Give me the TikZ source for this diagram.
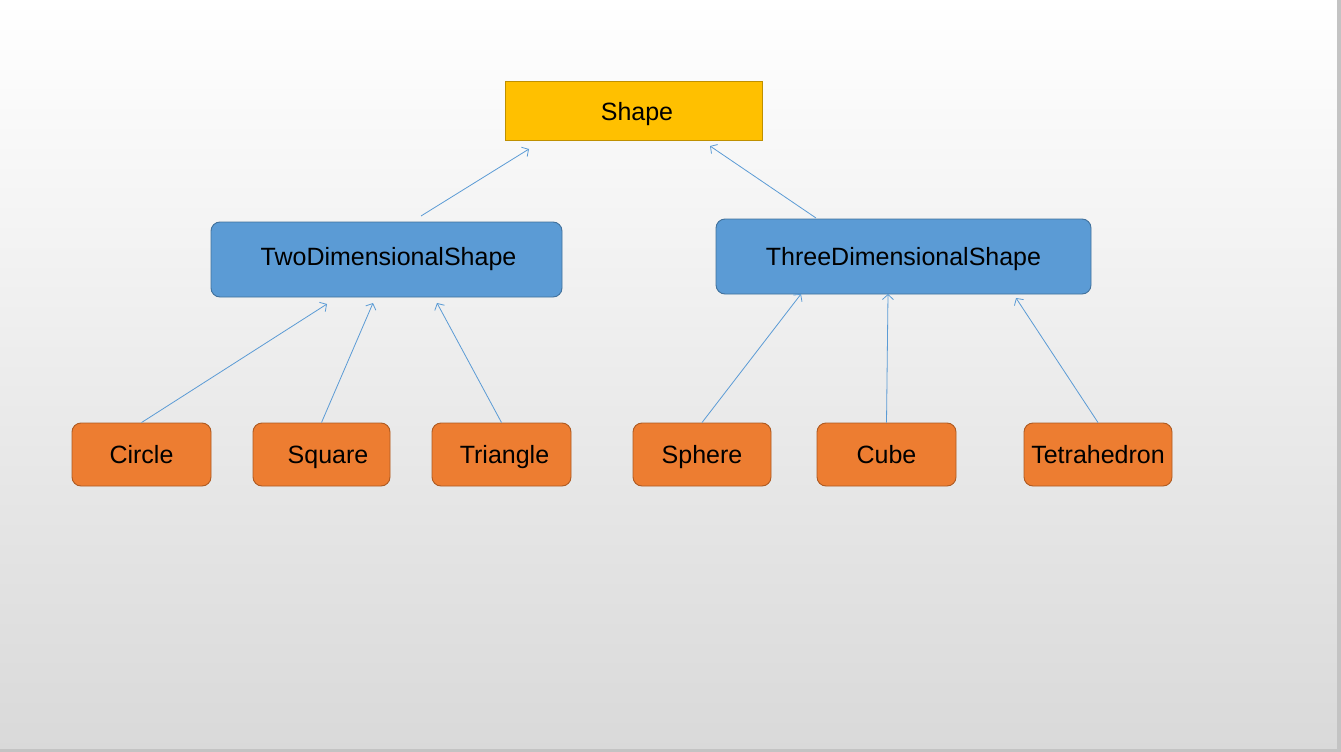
\documentclass[tikz,border=0pt]{standalone}
\usepackage{fontspec}
\setmainfont{Liberation Sans}
\usetikzlibrary{arrows.meta}
\definecolor{shapefill}{HTML}{FFC000}
\definecolor{shapedraw}{HTML}{BF9000}
\definecolor{bluefill}{HTML}{5B9BD5}
\definecolor{bluedraw}{HTML}{41719C}
\definecolor{orfill}{HTML}{ED7D31}
\definecolor{ordraw}{HTML}{AE5A21}
\definecolor{arrowc}{HTML}{5B9BD5}
\definecolor{bgbot}{HTML}{D9D9D9}
\definecolor{bgmid}{HTML}{F3F3F3}
\definecolor{edgec}{HTML}{C3C3C3}
\begin{document}
\begin{tikzpicture}[x=1pt,y=-1pt,
  box/.style={draw, line width=0.9pt, inner sep=0pt, text height=18pt, text depth=0pt, font=\fontsize{25}{29}\selectfont},
  topbox/.style={box, fill=shapefill, draw=shapedraw},
  midbox/.style={box, fill=bluefill, draw=bluedraw, rounded corners=9pt},
  leafbox/.style={box, fill=orfill, draw=ordraw, rounded corners=9pt},
  conn/.style={draw=arrowc, line width=0.8pt, -{Straight Barb[length=5pt,width=11pt]}}]
\shade[top color=white, middle color=bgmid, bottom color=bgbot] (0,0) rectangle (1341,752);
\useasboundingbox (0,0) rectangle (1341,752);
\fill[edgec] (1337,0) rectangle (1341,752);
\fill[edgec] (0,749) rectangle (1341,752);
% nodes
\node[topbox, minimum width=257pt, minimum height=59pt] (shape) at (633.5,110.5) {\hspace*{7pt}\raisebox{-1pt}{Shape}};
\node[midbox, minimum width=351pt, minimum height=75pt] (two) at (386.5,259.5) {\hspace*{4pt}\raisebox{3pt}{TwoDimensionalShape}};
\node[midbox, minimum width=375pt, minimum height=75pt] (three) at (903.5,256.5) {ThreeDimensionalShape};
\node[leafbox, minimum width=139pt, minimum height=63pt] (circle) at (141.5,454.5) {Circle};
\node[leafbox, minimum width=137pt, minimum height=63pt] (square) at (321.5,454.5) {\hspace*{13pt}Square};
\node[leafbox, minimum width=139pt, minimum height=63pt] (triangle) at (501.5,454.5) {\hspace*{6pt}Triangle};
\node[leafbox, minimum width=138pt, minimum height=63pt] (sphere) at (702,454.5) {Sphere};
\node[leafbox, minimum width=139pt, minimum height=63pt] (cube) at (886.5,454.5) {Cube};
\node[leafbox, minimum width=148pt, minimum height=63pt] (tetra) at (1098,454.5) {Tetrahedron};
% connector end points
\coordinate (twoS) at (421,216);
\coordinate (shapeL) at (529,149);
\coordinate (threeS) at (816,218);
\coordinate (shapeR) at (710,146);
\coordinate (twoA) at (327,304);
\coordinate (twoB) at (373,303);
\coordinate (twoC) at (437,303);
\coordinate (threeA) at (801,294);
\coordinate (threeB) at (888,294);
\coordinate (threeC) at (1016,298);
\draw[conn] (twoS) -- (shapeL);
\draw[conn] (threeS) -- (shapeR);
\draw[conn] (circle.north) -- (twoA);
\draw[conn] (square.north) -- (twoB);
\draw[conn] (triangle.north) -- (twoC);
\draw[conn] (sphere.north) -- (threeA);
\draw[conn] (cube.north) -- (threeB);
\draw[conn] (tetra.north) -- (threeC);
\end{tikzpicture}
\end{document}
